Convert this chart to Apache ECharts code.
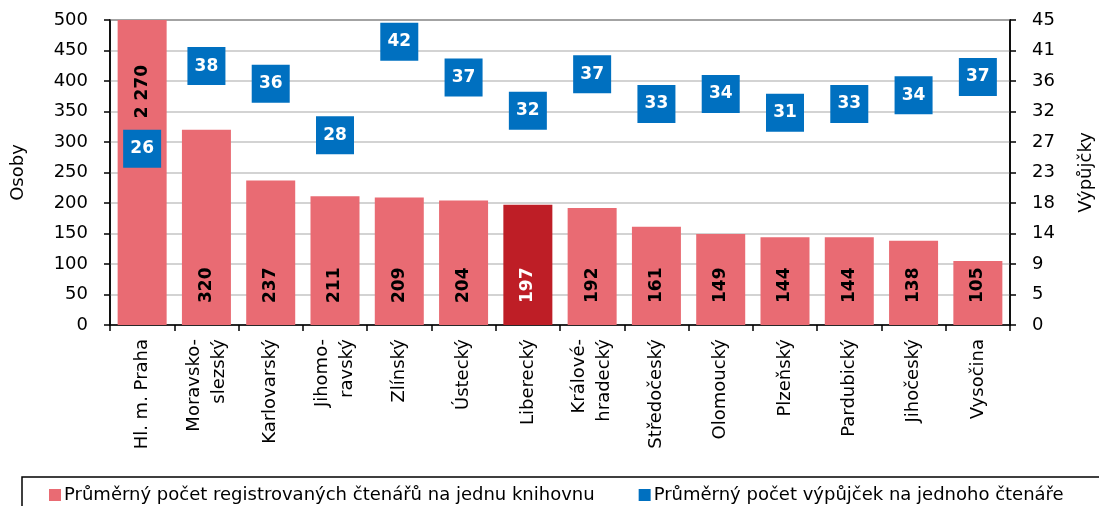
<!DOCTYPE html>
<html>
<head>
<meta charset="utf-8">
<script src="https://cdn.jsdelivr.net/npm/echarts@6/dist/echarts.min.js"></script>
<style>
  html, body { margin: 0; padding: 0; background: #fff; }
  #result { width: 1099px; height: 506px; }
</style>
</head>
<body>
<div id="result"></div>
<script>
// kraje
var categories = ['Hl. m. Praha', 'Moravsko-\nslezský', 'Karlovarský', 'Jihomo-\nravský', 'Zlínský', 'Ústecký', 'Liberecký',
    'Králové-\nhradecký', 'Středočeský', 'Olomoucký', 'Plzeňský', 'Pardubický', 'Jihočeský', 'Vysočina'];
// průměrný počet registrovaných čtenářů na jednu knihovnu
var ctenari = [2270, 320, 237, 211, 209, 204, 197, 192, 161, 149, 144, 144, 138, 105];
// průměrný počet výpůjček na jednoho čtenáře
var vypujcky = [26.0, 38.2, 35.6, 28.0, 41.8, 36.5, 31.6, 37.0, 32.6, 34.1, 31.3, 32.6, 33.9, 36.6];
var highlight = 'Liberecký';

var fontFamily = 'DejaVu Sans, sans-serif';

var barData = ctenari.map(function (v, i) {
    var item = { value: v };
    if (categories[i] === highlight) {
        item.itemStyle = { color: '#BE1E26' };
        item.label = { color: '#fff' };
    }
    if (i === 0) {
        // Praha přesahuje osu – popisek nahoře
        item.label = { position: 'insideTop', align: 'right', distance: 45 };
    }
    return item;
});

var option = {
    animation: false,
    textStyle: { fontFamily: fontFamily },
    grid: {
        show: true,
        left: 110,
        right: 89,
        top: 20,
        bottom: 181,
        containLabel: false,
        outerBoundsMode: 'none',
        borderColor: '#000',
        borderWidth: 1.5,
        backgroundColor: 'transparent'
    },
    legend: {
        left: 22,
        top: 477,
        width: 1200,
        padding: [9, 100, 40, 27],
        itemGap: 44,
        itemWidth: 12,
        itemHeight: 12,
        borderColor: '#000',
        borderWidth: 1.5,
        borderRadius: 0,
        textStyle: { fontSize: 18, color: '#000', padding: [0, 0, 0, -2] },
        data: [
            { name: 'Průměrný počet registrovaných čtenářů na jednu knihovnu', icon: 'rect' },
            { name: 'Průměrný počet výpůjček na jednoho čtenáře', icon: 'rect' }
        ]
    },
    xAxis: {
        type: 'category',
        data: categories,
        axisLine: { lineStyle: { color: '#000', width: 1.5 } },
        axisTick: { show: true, interval: 0, length: 6, lineStyle: { color: '#000', width: 1.5 } },
        axisLabel: {
            interval: 0,
            rotate: 90,
            margin: 14,
            fontSize: 18,
            lineHeight: 25,
            color: '#000'
        }
    },
    yAxis: [
        {
            type: 'value',
            min: 0,
            max: 500,
            interval: 50,
            name: 'Osoby',
            nameLocation: 'middle',
            nameGap: 83,
            nameMoveOverlap: false,
            nameTextStyle: { fontSize: 18, color: '#000' },
            axisLine: { show: true, lineStyle: { color: '#000', width: 1.5 } },
            axisTick: { show: true, length: 6, lineStyle: { color: '#000', width: 1.5 } },
            axisLabel: { fontSize: 18, color: '#000', margin: 10, padding: [0, 12, 0, 0] },
            splitLine: { show: true, lineStyle: { color: '#C4C4C4', width: 1.5 } }
        },
        {
            type: 'value',
            min: 0,
            max: 45,
            interval: 4.5,
            name: 'Výpůjčky',
            nameLocation: 'middle',
            nameGap: 67,
            nameMoveOverlap: false,
            nameTextStyle: { fontSize: 18, color: '#000' },
            axisLine: { show: true, lineStyle: { color: '#000', width: 1.5 } },
            axisTick: { show: true, length: 6, lineStyle: { color: '#000', width: 1.5 } },
            axisLabel: {
                fontSize: 18, color: '#000', margin: 10, padding: [0, 0, 0, 12],
                formatter: function (v) { return Math.round(v); }
            },
            splitLine: { show: false }
        }
    ],
    series: [
        {
            name: 'Průměrný počet registrovaných čtenářů na jednu knihovnu',
            type: 'bar',
            yAxisIndex: 0,
            barWidth: 49,
            itemStyle: { color: '#E96B73' },
            label: {
                show: true,
                position: 'insideBottom',
                rotate: 90,
                align: 'left',
                verticalAlign: 'middle',
                distance: 22,
                fontSize: 17,
                fontWeight: 'bold',
                color: '#000',
                formatter: function (p) {
                    return String(p.value).replace(/\B(?=(\d{3})+(?!\d))/g, ' ');
                }
            },
            data: barData
        },
        {
            name: 'Průměrný počet výpůjček na jednoho čtenáře',
            type: 'line',
            yAxisIndex: 1,
            lineStyle: { width: 0 },
            symbol: 'rect',
            symbolSize: 38,
            itemStyle: { color: '#0070C0' },
            label: {
                show: true,
                position: 'inside',
                fontSize: 17,
                fontWeight: 'bold',
                color: '#fff',
                formatter: function (p) { return Math.round(p.value); }
            },
            z: 5,
            data: vypujcky
        }
    ]
};

var myResult = echarts.init(document.getElementById('result'));
myResult.setOption(option);
</script>
</body>
</html>
